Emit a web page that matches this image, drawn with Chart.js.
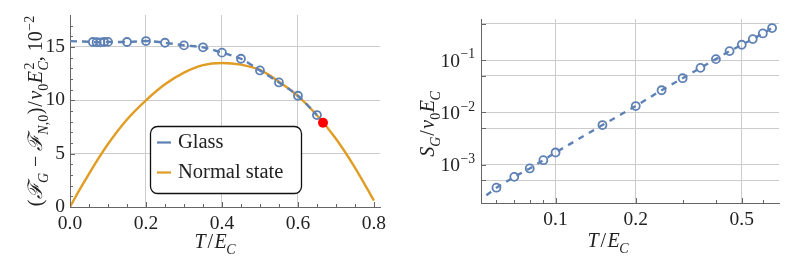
<!DOCTYPE html>
<html>
<head>
<meta charset="utf-8">
<script src="https://cdn.jsdelivr.net/npm/chart.js@4.4.1/dist/chart.umd.min.js"></script>
<style>
body { margin: 0; background: #fff; }
#wrap { position: relative; width: 800px; height: 273px; }
canvas { position: absolute; top: 0; }
#free { left: 0; }
#entropy { left: 400px; }
</style>
</head>
<body>
<div id="wrap">
  <canvas id="free" width="400" height="273"></canvas>
  <canvas id="entropy" width="400" height="273"></canvas>
</div>
<script>
// values
const glassT = [0.06, 0.07, 0.08, 0.09, 0.10, 0.15, 0.20, 0.25, 0.30, 0.35, 0.40, 0.45, 0.50, 0.55, 0.60, 0.65];
const glassFree = [15.47, 15.45, 15.44, 15.47, 15.48, 15.47, 15.56, 15.40, 15.15, 14.97, 14.47, 13.90, 12.80, 11.68, 10.43, 8.62];
const glassFreeAtZero = 15.55;

const normalT = [0, 0.025, 0.05, 0.075, 0.10, 0.15, 0.20, 0.25, 0.30, 0.35, 0.40, 0.45, 0.50, 0.55, 0.60, 0.65, 0.70, 0.75, 0.80];
const normalFree = [0, 1.6, 3.1, 4.55, 5.9, 8.2, 10.0, 11.5, 12.6, 13.3, 13.5, 13.35, 12.85, 11.75, 10.4, 8.6, 6.4, 3.7, 0.6];

const transitionT = [0.666];
const transitionFree = [7.9];

const glassEntropy = [3.6e-4, 5.8e-4, 8.4e-4, 1.21e-3, 1.70e-3, 5.7e-3, 0.0132, 0.0265, 0.0451, 0.0711, 0.1045, 0.149, 0.197, 0.253, 0.325, 0.412];
const entropyLineStartT = 0.055;
const entropyLineStart = 2.57e-4;

const freeXTicks = [0, 0.2, 0.4, 0.6, 0.8];
const freeXMinor = [0.05, 0.1, 0.15, 0.25, 0.3, 0.35, 0.45, 0.5, 0.55, 0.65, 0.7, 0.75];
const freeYTicks = [0, 5, 10, 15];
const freeYMinor = [1, 2, 3, 4, 6, 7, 8, 9, 11, 12, 13, 14, 16, 17];

const entXTicks = [0.1, 0.2, 0.5];
const entXMinor = [0.06, 0.07, 0.08, 0.09, 0.3, 0.4, 0.6];
const entYTicks = [1e-3, 1e-2, 1e-1];
const entYExp = ['−3', '−2', '−1'];
const entYMinor = [5e-4, 5e-3, 5e-2, 5e-1];

const BLUE = '#5e81b5';
const ORANGE = '#e19c24';
const GRID = '#cccccc';
const AXIS = '#666666';
const TEXT = '#222222';

function font(size, italic) {
  return (italic ? 'italic ' : '') + size + 'px "Liberation Serif", "DejaVu Serif", serif';
}

// draws a line of text with sub/superscripts; dx = shift before, k = extra space after
function drawRich(ctx, parts, x, y, size, angle, align) {
  const items = [];
  let cx = 0, prevStart = 0, prevW = 0;
  for (const p of parts) {
    const s = (p.sub || p.sup) ? size * 0.7 : size;
    const f = font(s, p.it);
    ctx.font = f;
    const w = ctx.measureText(p.t).width;
    const start = (p.back ? prevStart : cx) + (p.dx || 0);
    const dy = p.sub ? size * 0.28 : p.sup ? -size * 0.42 : 0;
    items.push({ t: p.t, f: f, x: start, dy: dy });
    cx = (p.back ? prevStart + Math.max(prevW, w) : start + w) + (p.k || 0);
    prevStart = start;
    prevW = w;
  }
  const off = align === 'right' ? -cx : align === 'left' ? 0 : -cx / 2;
  ctx.save();
  ctx.translate(x, y);
  ctx.rotate(angle || 0);
  ctx.textBaseline = 'alphabetic';
  ctx.textAlign = 'left';
  ctx.fillStyle = TEXT;
  for (const it of items) {
    ctx.font = it.f;
    ctx.fillText(it.t, it.x + off, it.dy);
  }
  ctx.restore();
}

const decor = {
  id: 'decor',
  afterDraw(chart, args, o) {
    const { ctx, chartArea: a, scales: { x, y } } = chart;
    ctx.save();
    ctx.strokeStyle = AXIS;
    ctx.lineWidth = 1;
    ctx.beginPath();
    const xt = (list, len) => list.forEach(v => {
      const px = Math.round(x.getPixelForValue(v)) + 0.5;
      ctx.moveTo(px, a.bottom); ctx.lineTo(px, a.bottom - len);
    });
    const yt = (list, len) => list.forEach(v => {
      const py = Math.round(y.getPixelForValue(v)) + 0.5;
      ctx.moveTo(a.left, py); ctx.lineTo(a.left + len, py);
    });
    xt(o.xMajor, 5); xt(o.xMinor, 3);
    yt(o.yMajor, 5); yt(o.yMinor, o.yMinorLen || 3);
    ctx.stroke();

    if (o.logLabels) {
      o.yMajor.forEach((v, i) => {
        const py = y.getPixelForValue(v);
        drawRich(ctx, [{ t: '10' }, { t: o.logLabels[i], sup: 1, dx: 0.5 }], a.left - 6, py + 6.5, 19.5, 0, 'right');
      });
    }

    o.titles.forEach(t => drawRich(ctx, t.parts, t.x, t.y, 20, t.angle, 'center'));

    if (o.legend) {
      const L = o.legend;
      ctx.beginPath();
      ctx.roundRect(L.x + 0.5, L.y + 0.5, L.w, L.h, 7);
      ctx.fillStyle = '#fff';
      ctx.fill();
      ctx.strokeStyle = '#111';
      ctx.lineWidth = 1.3;
      ctx.stroke();
      L.items.forEach((it, i) => {
        const ly = L.y + 16.5 + i * 30;
        ctx.beginPath();
        ctx.strokeStyle = it.color;
        ctx.lineWidth = 2.2;
        ctx.moveTo(L.x + 7, ly); ctx.lineTo(L.x + 21, ly);
        ctx.stroke();
        ctx.fillStyle = TEXT;
        ctx.font = font(20.5);
        ctx.textBaseline = 'middle';
        ctx.fillText(it.label, L.x + 28, ly + 0.5);
      });
    }
    ctx.restore();
  }
};

const tickFont = { family: '"Liberation Serif", "DejaVu Serif", serif', size: 19.5 };

function fixedScale(size, key) {
  return function (scale) {
    scale[key] = size;
    scale.paddingTop = 0; scale.paddingBottom = 0;
    scale.paddingLeft = 0; scale.paddingRight = 0;
  };
}

const pts = (xs, ys) => xs.map((v, i) => ({ x: v, y: ys[i] }));

const tOverE = [{ t: 'T', it: 1, k: 2 }, { t: '/', k: 1.5 }, { t: 'E', it: 1 }, { t: 'C', it: 1, sub: 1, dx: -0.5 }];

// left: free energy
new Chart(document.getElementById('free'), {
  type: 'scatter',
  data: {
    datasets: [
      { label: 'transition', data: pts(transitionT, transitionFree), pointRadius: 5, pointBackgroundColor: '#ff0000', pointBorderWidth: 0, showLine: false },
      { label: 'Glass points', data: pts(glassT, glassFree), pointRadius: 4, pointBorderWidth: 1.8, pointBorderColor: BLUE, pointBackgroundColor: 'rgba(0,0,0,0)', showLine: false },
      { label: 'Glass', data: [{ x: 0, y: glassFreeAtZero }].concat(pts(glassT, glassFree)), showLine: true, borderColor: BLUE, borderWidth: 2.4, borderDash: [7, 5], pointRadius: 0, cubicInterpolationMode: 'monotone' },
      { label: 'Normal state', data: pts(normalT, normalFree), showLine: true, borderColor: ORANGE, borderWidth: 2.4, pointRadius: 0, cubicInterpolationMode: 'monotone' }
    ]
  },
  options: {
    responsive: false,
    animation: false,
    layout: { padding: { top: 15, right: 20, left: 0, bottom: 0 } },
    plugins: {
      legend: { display: false },
      tooltip: { enabled: false },
      decor: {
        xMajor: freeXTicks, xMinor: freeXMinor, yMajor: freeYTicks, yMinor: freeYMinor,
        titles: [
          { x: 215, y: 248, angle: 0, parts: tOverE },
          { x: 42, y: 111, angle: -Math.PI / 2, parts: [
            { t: '(', k: 0.5 }, { t: 'ℱ', it: 1 }, { t: 'G', it: 1, sub: 1, k: 1 }, { t: ' − ' }, { t: 'ℱ', it: 1 },
            { t: 'N', it: 1, sub: 1 }, { t: ',0', sub: 1, k: 0.5 }, { t: ')', k: 1 }, { t: '/', k: 1.5 }, { t: 'ν', it: 1 }, { t: '0', sub: 1, k: 0.5 },
            { t: 'E', it: 1, k: 0.5 }, { t: 'C', it: 1, sub: 1 }, { t: '2', sup: 1, back: 1, dx: 1 }, { t: ', 10', k: 0.5 }, { t: '−2', sup: 1 }
          ] }
        ],
        legend: { x: 150, y: 126, w: 151, h: 67, items: [{ label: 'Glass', color: BLUE }, { label: 'Normal state', color: ORANGE }] }
      }
    },
    scales: {
      x: {
        type: 'linear', min: 0, max: 0.816,
        afterFit: fixedScale(66, 'height'),
        afterBuildTicks: s => { s.ticks = freeXTicks.map(v => ({ value: v })); },
        grid: { drawTicks: false, color: c => (c.tick && c.tick.value > 0 && c.tick.value < 0.8) ? GRID : 'rgba(0,0,0,0)' },
        border: { color: AXIS, width: 1 },
        ticks: { font: tickFont, color: TEXT, padding: 5, maxRotation: 0, autoSkip: false, callback: v => v.toFixed(1) }
      },
      y: {
        type: 'linear', min: 0, max: 18,
        afterFit: fixedScale(70, 'width'),
        afterBuildTicks: s => { s.ticks = freeYTicks.map(v => ({ value: v })); },
        grid: { drawTicks: false, color: c => (c.tick && c.tick.value > 0) ? GRID : 'rgba(0,0,0,0)' },
        border: { color: AXIS, width: 1 },
        ticks: { font: tickFont, color: TEXT, padding: 5, autoSkip: false, callback: v => String(v) }
      }
    }
  },
  plugins: [decor]
});

// right: entropy, log-log
new Chart(document.getElementById('entropy'), {
  type: 'scatter',
  data: {
    datasets: [
      { label: 'Glass points', data: pts(glassT, glassEntropy), pointRadius: 4, pointBorderWidth: 1.8, pointBorderColor: BLUE, pointBackgroundColor: 'rgba(0,0,0,0)', showLine: false },
      { label: 'Glass', data: [{ x: entropyLineStartT, y: entropyLineStart }].concat(pts(glassT, glassEntropy)), showLine: true, borderColor: BLUE, borderWidth: 2.4, borderDash: [6, 6], pointRadius: 0 }
    ]
  },
  options: {
    responsive: false,
    animation: false,
    layout: { padding: { top: 19, right: 21, left: 0, bottom: 0 } },
    plugins: {
      legend: { display: false },
      tooltip: { enabled: false },
      decor: {
        xMajor: entXTicks, xMinor: entXMinor, yMajor: entYTicks, yMinor: entYMinor, yMinorLen: 5,
        logLabels: entYExp,
        titles: [
          { x: 208, y: 247, angle: 0, parts: tOverE },
          { x: 34, y: 124, angle: -Math.PI / 2, parts: [
            { t: 'S', it: 1 }, { t: 'G', it: 1, sub: 1, k: 1 }, { t: '/', k: 1.5 }, { t: 'ν', it: 1 }, { t: '0', sub: 1, k: 0.5 }, { t: 'E', it: 1 }, { t: 'C', it: 1, sub: 1, dx: -0.5 }
          ] }
        ]
      }
    },
    scales: {
      x: {
        type: 'logarithmic', min: 0.0525, max: 0.69,
        afterFit: fixedScale(70, 'height'),
        afterBuildTicks: s => { s.ticks = entXMinor.concat(entXTicks).sort((a, b) => a - b).map(v => ({ value: v })); },
        grid: { drawTicks: false, color: c => (c.tick && entXTicks.includes(c.tick.value)) ? GRID : 'rgba(0,0,0,0)' },
        border: { color: AXIS, width: 1 },
        ticks: { font: tickFont, color: TEXT, padding: 5, maxRotation: 0, autoSkip: false, callback: v => entXTicks.includes(v) ? String(v) : '' }
      },
      y: {
        type: 'logarithmic', min: 1.83e-4, max: 0.614,
        afterFit: fixedScale(81, 'width'),
        afterBuildTicks: s => { s.ticks = entYMinor.concat(entYTicks).sort((a, b) => a - b).map(v => ({ value: v })); },
        grid: { drawTicks: false, color: GRID },
        border: { color: AXIS, width: 1 },
        ticks: { display: false }
      }
    }
  },
  plugins: [decor]
});
</script>
</body>
</html>
